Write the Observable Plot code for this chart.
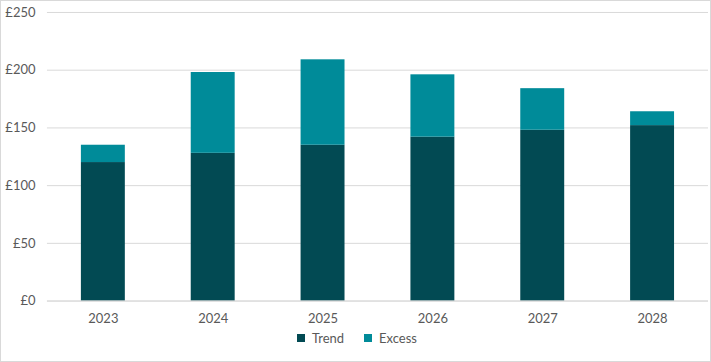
<!DOCTYPE html>
<html>
<head>
<meta charset="utf-8">
<script src="https://cdn.jsdelivr.net/npm/d3@7"></script>
<script src="https://cdn.jsdelivr.net/npm/@observablehq/plot@0.6"></script>
<style>
  html, body { margin: 0; padding: 0; background: #fff; }
  #frame { position: relative; width: 711px; height: 362px; box-sizing: border-box; border: 1px solid #d9d9d9; font-family: Lato, "Open Sans", sans-serif; }
  #chart { position: absolute; left: -1px; top: -1px; }
  #legend { position: absolute; top: 329px; left: 0; width: 711px; font-size: 13px; color: #595959; }
  .item { position: absolute; display: flex; align-items: center; }
  .sw { width: 8px; height: 8px; margin-right: 7px; }
</style>
</head>
<body>
<div id="frame">
  <div id="chart"></div>
  <div id="legend"></div>
</div>
<script>
const years = ["2023", "2024", "2025", "2026", "2027", "2028"];
const trend = [120, 128, 135, 142, 148, 152];
const excess = [15, 70, 74, 54, 36, 12];
const seriesNames = ["Trend", "Excess"];
const seriesColors = ["#024A53", "#008B99"];
const yTicks = [0, 50, 100, 150, 200, 250];

const rows = [];
years.forEach((y, i) => {
  rows.push({year: y, series: "Trend", value: trend[i]});
  rows.push({year: y, series: "Excess", value: excess[i]});
});

const chart = Plot.plot({
  width: 711,
  height: 330,
  marginLeft: 47,
  marginRight: 2,
  marginTop: 12,
  marginBottom: 29,
  style: {fontFamily: "Lato, 'Open Sans', sans-serif", fontSize: "13px", color: "#595959", background: "transparent"},
  x: {domain: years, paddingInner: 0.6, paddingOuter: 0.3, label: null, tickSize: 0, tickPadding: 13},
  y: {domain: [0, 250], ticks: yTicks, label: null, tickSize: 0, tickPadding: 12, tickFormat: d => "£" + d},
  color: {domain: seriesNames, range: seriesColors},
  marks: [
    Plot.gridY(yTicks, {stroke: "#d9d9d9", strokeOpacity: 1, strokeWidth: 1}),
    Plot.barY(rows, {x: "year", y: "value", fill: "series", order: seriesNames}),
    Plot.ruleY([0], {stroke: "#d9d9d9", strokeWidth: 1})
  ]
});
document.getElementById("chart").appendChild(chart);

const legend = document.getElementById("legend");
const positions = [296, 363];
seriesNames.forEach((name, i) => {
  const it = document.createElement("div");
  it.className = "item";
  it.style.left = positions[i] + "px";
  it.innerHTML = `<span class="sw" style="background:${seriesColors[i]}"></span><span>${name}</span>`;
  legend.appendChild(it);
});
</script>
</body>
</html>
